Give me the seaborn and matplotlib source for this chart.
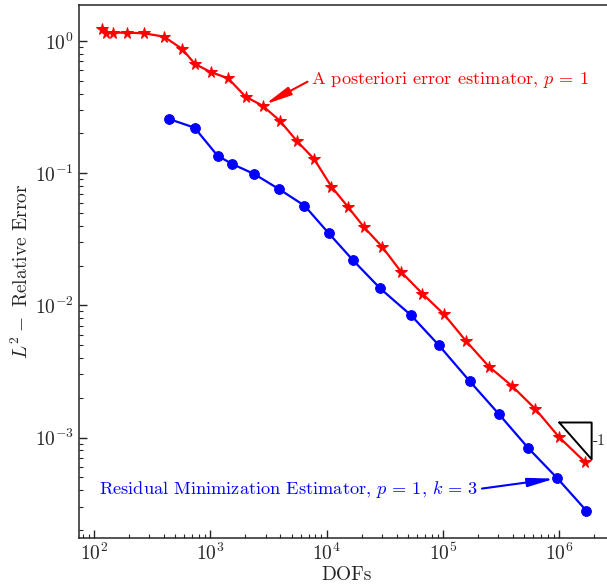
import numpy as np
import pandas as pd
import seaborn as sns
import matplotlib
matplotlib.use("Agg")
import matplotlib.pyplot as plt
from matplotlib.ticker import LogLocator,NullFormatter


# a posteriori estimator, p=1 (red stars)
apost_dofs= [118,127,147,193,269,400,574,738,1006,1425,2011,2814,3962,5580,7809,
             11020,15300,21000,29990,44000,66680,102200,157000,249000,392500,623300,994000,1653000]
apost_err= [1.232,1.156,1.156,1.156,1.144,1.078,0.870,0.670,0.583,0.522,0.379,0.324,0.2495,0.1743,
            0.1281,0.0790,0.0555,0.0390,0.0278,0.0178,0.01226,0.00856,0.00541,0.00344,0.002457,
            0.001645,0.00101,0.000657]

# residual minimization estimator, p=1, k=3 (blue dots)
resmin_dofs= [441,733,1155,1542,2383,3908,6458,10440,16890,28930,53200,92000,169900,
              303400,542800,963200,1709000]
resmin_err= [0.257,0.2209,0.1356,0.1174,0.0986,0.0757,0.0568,0.0351,0.02194,0.01342,0.00842,
             0.00501,0.00267,0.001503,0.000831,0.000492,0.00028]

# slope triangle corners (x0,x1,y_top)
tri_x= [1.0e6,1.9e6]
tri_ytop= 1.30e-3


def setup_style():
    sns.set_style("ticks")
    plt.rcParams["font.family"]= "serif"
    plt.rcParams["font.serif"]= ["cmr10"]
    plt.rcParams["mathtext.fontset"]= "cm"
    plt.rcParams["axes.formatter.use_mathtext"]= True
    plt.rcParams["axes.unicode_minus"]= False
    plt.rcParams["xtick.direction"]= "in"
    plt.rcParams["ytick.direction"]= "in"


def main():
    setup_style()
    fig= plt.figure(figsize=(6.07,5.87),dpi=100)
    ax= fig.add_axes([0.130,0.0835,0.883,0.908])

    df_a= pd.DataFrame({"dofs": apost_dofs,"err": apost_err})
    df_r= pd.DataFrame({"dofs": resmin_dofs,"err": resmin_err})

    sns.lineplot(data=df_a,x="dofs",y="err",ax=ax,color="red",marker="*",
                 markersize=8.5,markeredgecolor="red",linewidth=1.6,estimator=None,sort=False)
    sns.lineplot(data=df_r,x="dofs",y="err",ax=ax,color="blue",marker="o",
                 markersize=7,markeredgecolor="blue",linewidth=1.6,estimator=None,sort=False)

    ax.set_xscale("log");ax.set_yscale("log")
    ax.set_xlim(74.3,3.01e6)
    ax.set_ylim(1.739e-4,1.872)

    ax.xaxis.set_minor_locator(LogLocator(base=10,subs=np.arange(2,10),numticks=20))
    ax.yaxis.set_minor_locator(LogLocator(base=10,subs=np.arange(2,10),numticks=20))
    ax.xaxis.set_minor_formatter(NullFormatter());ax.yaxis.set_minor_formatter(NullFormatter())
    ax.tick_params(which="major",length=6,width=1,labelsize=14)
    ax.tick_params(which="minor",length=3,width=0.8)
    for sp in ax.spines.values():
        sp.set_linewidth(1.1)

    ax.set_xlabel("DOFs",fontsize=14,labelpad=1)
    ax.set_ylabel(r"$L^2-$ Relative Error",fontsize=14,labelpad=2)

    # slope triangle
    x0,x1= tri_x
    y0= tri_ytop
    y1= y0 * x0 / x1
    ax.plot([x0,x1,x1,x0],[y0,y0,y1,y0],color="black",lw=1.4)
    ax.text(x1*1.03,np.sqrt(y0*y1),"-1",fontsize=11,va="center",ha="left")

    ax.annotate(r"A posteriori error estimator, $p\,=\,1$",
                xy=(apost_dofs[11],apost_err[11]),xytext=(7311,0.507),
                color="red",fontsize=13.2,va="center",ha="left",
                arrowprops=dict(arrowstyle="-|>,head_length=1.2,head_width=0.2",
                                color="red",lw=1.5,shrinkA=0,shrinkB=2,relpos=(0,0.5)))
    ax.annotate(r"Residual Minimization Estimator, $p\,=\,1$, $k\,=\,3$",
                xy=(resmin_dofs[15],resmin_err[15]),xytext=(203000,4.08e-4),
                color="blue",fontsize=13.2,va="center",ha="right",
                arrowprops=dict(arrowstyle="-|>,head_length=1.2,head_width=0.2",
                                color="blue",lw=1.5,shrinkA=0,shrinkB=2,relpos=(1,0.5)))

    fig.savefig("out.png",dpi=100)


if __name__== "__main__":
    main()
